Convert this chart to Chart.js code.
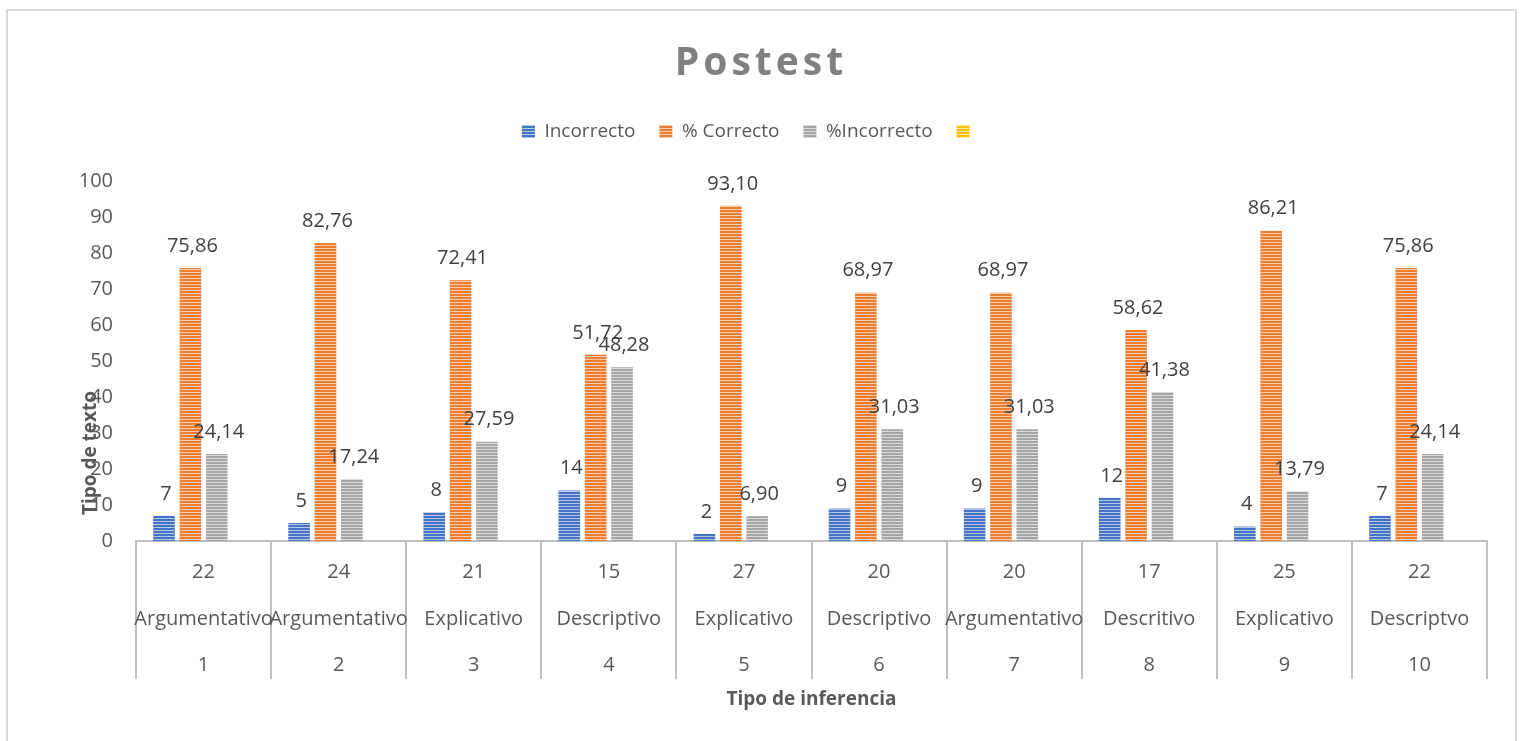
<!DOCTYPE html>
<html>
<head>
<meta charset="utf-8">
<title>Postest</title>
<script src="https://cdn.jsdelivr.net/npm/chart.js@4.4.0/dist/chart.umd.min.js"></script>
<style>
  html, body { margin: 0; padding: 0; background: #fff; }
  #wrap { width: 1525px; height: 741px; position: relative; }
</style>
</head>
<body>
<div id="wrap"><canvas id="chart"></canvas></div>
<script>
// data
const correctos = ['22', '24', '21', '15', '27', '20', '20', '17', '25', '22'];
const tipos = ['Argumentativo', 'Argumentativo', 'Explicativo', 'Descriptivo', 'Explicativo',
               'Descriptivo', 'Argumentativo', 'Descritivo', 'Explicativo', 'Descriptvo'];
const numeros = ['1', '2', '3', '4', '5', '6', '7', '8', '9', '10'];
const incorrecto = [7, 5, 8, 14, 2, 9, 9, 12, 4, 7];
const pctCorrecto = [75.86, 82.76, 72.41, 51.72, 93.10, 68.97, 68.97, 58.62, 86.21, 75.86];
const pctIncorrecto = [24.14, 17.24, 27.59, 48.28, 6.90, 31.03, 31.03, 41.38, 13.79, 24.14];
const vacio = [null, null, null, null, null, null, null, null, null, null];

const FONT = '"Open Sans", "DejaVu Sans", sans-serif';
const TEXT = '#595959';

// horizontal stripe fill like the Excel pattern
function stripes(color, light) {
    const c = document.createElement('canvas');
    c.width = 4;
    c.height = 3;
    const g = c.getContext('2d');
    g.fillStyle = light;
    g.fillRect(0, 0, 4, 3);
    g.fillStyle = color;
    g.fillRect(0, 0, 4, 2);
    return g.createPattern(c, 'repeat');
}

const labels = numeros.map((n, i) => [correctos[i], tipos[i], n]);

const fmt = (v, i) => i === 0 ? String(v) : v.toFixed(2).replace('.', ',');

const frame = {
    id: 'frame',
    beforeDraw(chart) {
        const ctx = chart.ctx;
        ctx.save();
        ctx.fillStyle = '#fff';
        ctx.fillRect(0, 0, chart.width, chart.height);
        ctx.strokeStyle = '#d9d9d9';
        ctx.lineWidth = 2;
        ctx.strokeRect(7, 10, 1509, 740);
        ctx.restore();
    },
    afterDraw(chart) {
        const ctx = chart.ctx;
        ctx.save();
        // chart title
        ctx.font = 'bold 39px ' + FONT;
        ctx.letterSpacing = '4px';
        ctx.fillStyle = '#808080';
        ctx.textAlign = 'center';
        ctx.textBaseline = 'middle';
        ctx.fillText('Postest', 761, 64);
        ctx.letterSpacing = '0px';
        // vertical axis title, placed where Excel left it
        ctx.translate(91, 453);
        ctx.rotate(-Math.PI / 2);
        ctx.font = 'bold 19px ' + FONT;
        ctx.fillStyle = TEXT;
        ctx.fillText('Tipo de texto', 0, 0);
        ctx.restore();
    }
};

const valueLabels = {
    id: 'valueLabels',
    afterDatasetsDraw(chart) {
        const ctx = chart.ctx;
        ctx.save();
        ctx.font = '20px ' + FONT;
        ctx.fillStyle = '#404040';
        ctx.textAlign = 'center';
        ctx.textBaseline = 'middle';
        chart.data.datasets.forEach((ds, i) => {
            const meta = chart.getDatasetMeta(i);
            meta.data.forEach((bar, j) => {
                const v = ds.data[j];
                if (v === null || v === undefined) return;
                ctx.fillText(fmt(v, i), bar.x + 2, bar.y - 22);
            });
        });
        ctx.restore();
    }
};

const legendFit = {
    id: 'legendFit',
    beforeInit(chart) {
        const lg = chart.legend;
        if (!lg) return;
        const orig = lg.fit;
        lg.fit = function () {
            orig.call(this);
            this.height = 83;
        };
    },
    afterLayout(chart) {
        const lg = chart.legend;
        if (!lg) return;
        lg.left += 7;
        lg.right += 7;
    }
};

new Chart(document.getElementById('chart'), {
    type: 'bar',
    data: {
        labels: labels,
        datasets: [
            { label: 'Incorrecto', data: incorrecto, backgroundColor: stripes('#4472c4', '#b4c7e7') },
            { label: '% Correcto', data: pctCorrecto, backgroundColor: stripes('#ed7d31', '#f8cbad') },
            { label: '%Incorrecto', data: pctIncorrecto, backgroundColor: stripes('#a5a5a5', '#dbdbdb') },
            { label: '', data: vacio, backgroundColor: stripes('#ffc000', '#ffe699') }
        ]
    },
    options: {
        responsive: true,
        maintainAspectRatio: false,
        animation: false,
        layout: { padding: { top: 98, right: 38, bottom: 0, left: 0 } },
        datasets: {
            bar: { categoryPercentage: 0.78, barPercentage: 0.82, borderWidth: 0 }
        },
        plugins: {
            title: { display: false },
            tooltip: { enabled: false },
            legend: {
                display: true,
                position: 'top',
                labels: {
                    boxWidth: 13,
                    boxHeight: 13,
                    padding: 24,
                    color: TEXT,
                    font: { family: FONT, size: 19 }
                }
            }
        },
        scales: {
            y: {
                min: 0,
                max: 100,
                afterFit(scale) { scale.width = 136; },
                ticks: {
                    stepSize: 10,
                    padding: 23,
                    color: TEXT,
                    font: { family: FONT, size: 20 }
                },
                grid: { display: false, drawTicks: false },
                border: { display: false }
            },
            x: {
                afterFit(scale) { scale.height = 200; },
                ticks: {
                    autoSkip: false,
                    maxRotation: 0,
                    minRotation: 0,
                    padding: -130,
                    color: TEXT,
                    font: { family: FONT, size: 20, lineHeight: 2.33 }
                },
                grid: {
                    display: true,
                    offset: true,
                    drawOnChartArea: false,
                    drawTicks: true,
                    tickLength: 138,
                    color: '#bfbfbf',
                    lineWidth: 2
                },
                border: { display: true, color: '#bfbfbf', width: 2 },
                title: {
                    display: true,
                    text: 'Tipo de inferencia',
                    color: TEXT,
                    font: { family: FONT, size: 19, weight: 'bold' },
                    padding: { top: 0, bottom: 30 }
                }
            }
        }
    },
    plugins: [frame, valueLabels, legendFit]
});
</script>
</body>
</html>
